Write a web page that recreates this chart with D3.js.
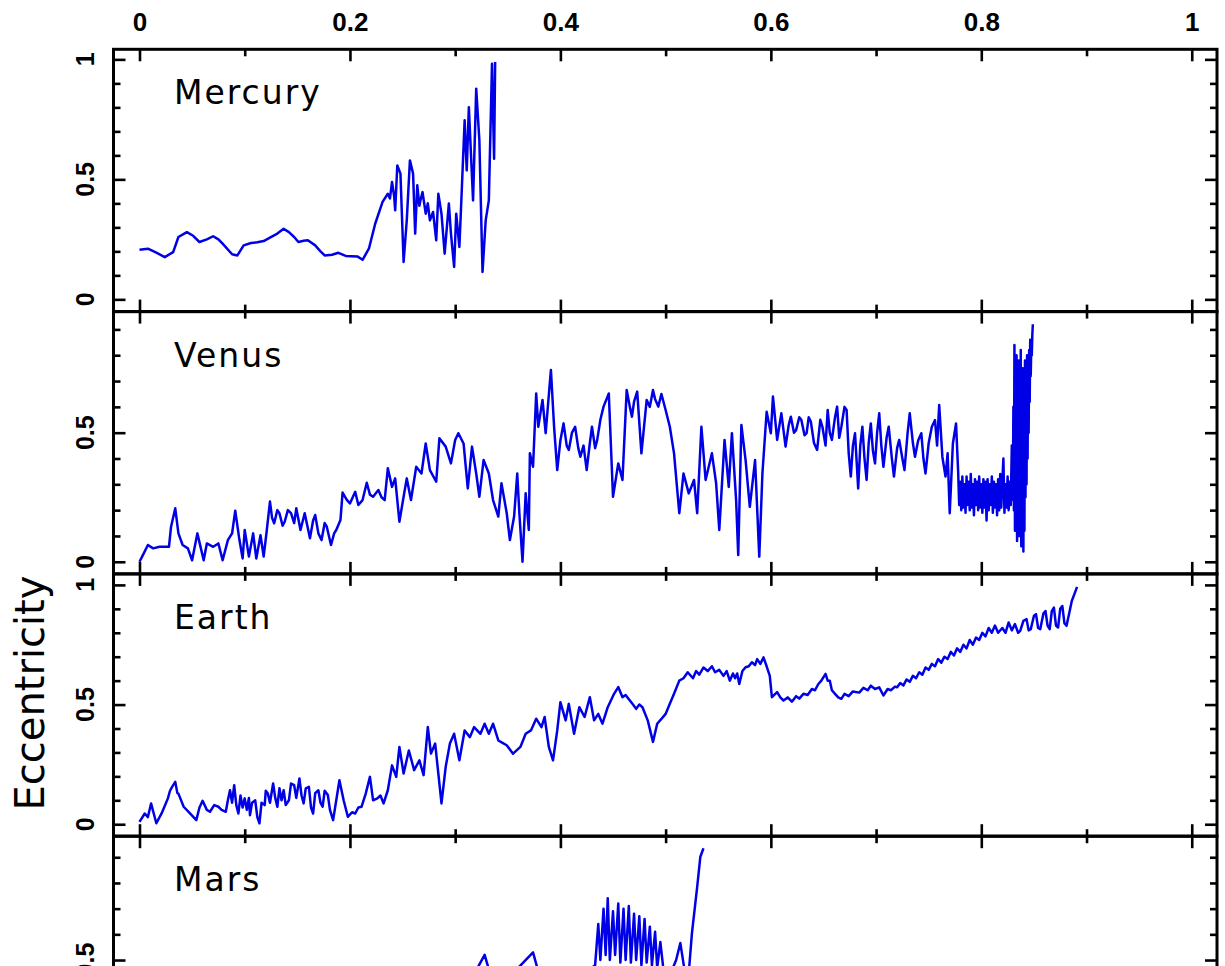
<!DOCTYPE html>
<html><head><meta charset="utf-8">
<script src="https://cdn.jsdelivr.net/npm/d3@7"></script>
<style>body{margin:0;background:#fff;overflow:hidden}svg{display:block}</style>
</head><body>
<svg id="chart" width="1225" height="966"></svg>
<script>
// ---------- data ----------
const planetNames = ["Mercury", "Venus", "Earth", "Mars"];
const xTickValues = [0, 0.2, 0.4, 0.6, 0.8, 1];
const xTickLabels = ["0", "0.2", "0.4", "0.6", "0.8", "1"];
const xMinorTicks = [0.1, 0.3, 0.5, 0.7, 0.9];
const yLabelValues = [[1, 0.5, 0], [0.5, 0], [1, 0.5, 0], [0.5]];
const yLabelTexts = [["1", "0.5", "0"], ["0.5", "0"], ["1", "0.5", "0"], ["0.5"]];
const yAxisTitle = "Eccentricity";

const mercury = [[0,0.207],[0.008,0.211],[0.016,0.195],[0.024,0.176],[0.032,0.197],[0.037,0.26],[0.045,0.28],[0.051,0.265],[0.057,0.239],[0.064,0.25],[0.070,0.263],[0.075,0.25],[0.079,0.232],[0.088,0.188],[0.093,0.183],[0.099,0.225],[0.106,0.235],[0.112,0.238],[0.118,0.243],[0.124,0.257],[0.131,0.274],[0.137,0.294],[0.142,0.28],[0.147,0.26],[0.151,0.239],[0.156,0.244],[0.160,0.246],[0.167,0.225],[0.172,0.2],[0.176,0.183],[0.183,0.186],[0.189,0.194],[0.196,0.181],[0.207,0.179],[0.212,0.165],[0.218,0.211],[0.224,0.315],[0.231,0.406],[0.236,0.44],[0.238,0.42],[0.240,0.489],[0.242,0.43],[0.243,0.371],[0.245,0.558],[0.248,0.524],[0.251,0.156],[0.254,0.329],[0.257,0.579],[0.260,0.524],[0.262,0.274],[0.264,0.475],[0.266,0.39],[0.267,0.4125],[0.269,0.447],[0.272,0.357],[0.274,0.40],[0.276,0.329],[0.279,0.364],[0.282,0.246],[0.284,0.44],[0.287,0.357],[0.290,0.19],[0.294,0.399],[0.296,0.274],[0.299,0.135],[0.301,0.357],[0.304,0.218],[0.306,0.426],[0.309,0.746],[0.311,0.5375],[0.313,0.801],[0.317,0.4125],[0.320,0.878],[0.323,0.6625],[0.326,0.114],[0.329,0.329],[0.332,0.4125],[0.335,0.982],[0.337,0.586],[0.338,0.989]];

const venus = [[0,0],[0.0025,0.02],[0.008,0.065],[0.013,0.052],[0.019,0.058],[0.028,0.058],[0.030,0.136],[0.034,0.207],[0.037,0.11],[0.041,0.065],[0.046,0.052],[0.050,0.006],[0.055,0.11],[0.061,0.006],[0.064,0.071],[0.070,0.058],[0.075,0.071],[0.079,0.006],[0.084,0.084],[0.088,0.11],[0.091,0.198],[0.095,0.084],[0.098,0.013],[0.100,0.123],[0.104,0.02],[0.108,0.11],[0.111,0.013],[0.115,0.103],[0.118,0.02],[0.121,0.123],[0.124,0.233],[0.126,0.17],[0.128,0.149],[0.131,0.20],[0.133,0.188],[0.136,0.14],[0.138,0.155],[0.141,0.20],[0.144,0.188],[0.147,0.15],[0.149,0.207],[0.153,0.123],[0.157,0.188],[0.160,0.13],[0.162,0.091],[0.165,0.16],[0.167,0.181],[0.170,0.11],[0.173,0.084],[0.176,0.15],[0.178,0.136],[0.182,0.065],[0.185,0.11],[0.187,0.123],[0.191,0.162],[0.193,0.268],[0.197,0.24],[0.200,0.226],[0.205,0.271],[0.208,0.22],[0.212,0.239],[0.216,0.306],[0.219,0.26],[0.222,0.252],[0.227,0.278],[0.230,0.25],[0.233,0.239],[0.236,0.362],[0.240,0.29],[0.243,0.323],[0.247,0.155],[0.251,0.252],[0.254,0.323],[0.258,0.239],[0.263,0.368],[0.268,0.342],[0.272,0.458],[0.276,0.355],[0.282,0.31],[0.285,0.478],[0.291,0.446],[0.296,0.381],[0.300,0.472],[0.303,0.498],[0.308,0.458],[0.312,0.284],[0.316,0.446],[0.320,0.342],[0.323,0.252],[0.327,0.394],[0.332,0.342],[0.336,0.239],[0.341,0.175],[0.344,0.304],[0.349,0.188],[0.352,0.084],[0.356,0.175],[0.359,0.342],[0.361,0.188],[0.364,0.0],[0.367,0.265],[0.370,0.123],[0.371,0.42],[0.374,0.368],[0.377,0.652],[0.379,0.523],[0.383,0.627],[0.386,0.498],[0.391,0.743],[0.394,0.523],[0.397,0.355],[0.400,0.47],[0.403,0.536],[0.406,0.45],[0.408,0.433],[0.411,0.50],[0.414,0.523],[0.417,0.44],[0.419,0.407],[0.422,0.45],[0.425,0.355],[0.428,0.46],[0.430,0.523],[0.433,0.44],[0.435,0.472],[0.438,0.55],[0.441,0.601],[0.446,0.652],[0.450,0.252],[0.455,0.381],[0.459,0.317],[0.463,0.665],[0.466,0.60],[0.468,0.562],[0.470,0.62],[0.473,0.659],[0.477,0.42],[0.482,0.627],[0.485,0.60],[0.488,0.665],[0.490,0.63],[0.493,0.601],[0.496,0.65],[0.500,0.588],[0.504,0.523],[0.508,0.42],[0.513,0.188],[0.517,0.342],[0.522,0.265],[0.527,0.317],[0.530,0.188],[0.534,0.523],[0.538,0.317],[0.544,0.42],[0.548,0.304],[0.551,0.123],[0.556,0.472],[0.560,0.29],[0.563,0.498],[0.567,0.239],[0.569,0.026],[0.572,0.53],[0.576,0.394],[0.580,0.213],[0.585,0.394],[0.589,0.02],[0.592,0.342],[0.596,0.581],[0.600,0.498],[0.602,0.64],[0.606,0.472],[0.610,0.575],[0.614,0.446],[0.617,0.53],[0.619,0.562],[0.622,0.50],[0.624,0.51],[0.627,0.56],[0.629,0.549],[0.632,0.49],[0.634,0.498],[0.636,0.56],[0.638,0.543],[0.641,0.46],[0.644,0.433],[0.647,0.55],[0.649,0.523],[0.652,0.45],[0.654,0.588],[0.656,0.50],[0.658,0.472],[0.661,0.56],[0.663,0.601],[0.665,0.48],[0.667,0.523],[0.670,0.60],[0.672,0.588],[0.674,0.42],[0.676,0.33],[0.678,0.45],[0.680,0.498],[0.683,0.284],[0.685,0.45],[0.687,0.523],[0.689,0.40],[0.691,0.317],[0.693,0.46],[0.695,0.536],[0.697,0.43],[0.699,0.381],[0.701,0.50],[0.703,0.575],[0.705,0.45],[0.707,0.368],[0.710,0.48],[0.712,0.523],[0.715,0.40],[0.717,0.33],[0.720,0.44],[0.722,0.472],[0.725,0.40],[0.727,0.355],[0.730,0.50],[0.732,0.575],[0.735,0.46],[0.737,0.407],[0.740,0.47],[0.743,0.498],[0.745,0.40],[0.747,0.342],[0.750,0.46],[0.753,0.523],[0.756,0.549],[0.758,0.45],[0.760,0.607],[0.763,0.407],[0.766,0.33],[0.768,0.42],[0.770,0.188],[0.773,0.458],[0.776,0.536],[0.778,0.35],[0.779,0.22],[0.780,0.31],[0.781,0.20],[0.782,0.33],[0.783,0.21],[0.784,0.30],[0.785,0.19],[0.786,0.33],[0.787,0.22],[0.788,0.31],[0.789,0.20],[0.790,0.34],[0.791,0.21],[0.792,0.30],[0.793,0.18],[0.794,0.32],[0.795,0.22],[0.796,0.31],[0.797,0.20],[0.798,0.33],[0.799,0.21],[0.800,0.30],[0.801,0.19],[0.802,0.32],[0.803,0.21],[0.804,0.31],[0.805,0.16],[0.806,0.32],[0.807,0.20],[0.808,0.30],[0.809,0.22],[0.810,0.33],[0.811,0.19],[0.812,0.31],[0.813,0.21],[0.814,0.30],[0.815,0.18],[0.816,0.32],[0.817,0.20],[0.818,0.34],[0.819,0.21],[0.820,0.31],[0.821,0.40],[0.822,0.19],[0.823,0.30],[0.824,0.21],[0.825,0.33],[0.826,0.20],[0.827,0.31],[0.828,0.22],[0.829,0.45],[0.830,0.24],[0.8305,0.60],[0.831,0.20],[0.8315,0.84],[0.832,0.12],[0.8325,0.70],[0.833,0.25],[0.8335,0.80],[0.834,0.08],[0.8345,0.65],[0.835,0.18],[0.8355,0.78],[0.836,0.10],[0.8365,0.72],[0.837,0.22],[0.8375,0.82],[0.838,0.06],[0.8385,0.68],[0.839,0.15],[0.8395,0.75],[0.840,0.04],[0.8405,0.70],[0.841,0.12],[0.8415,0.78],[0.842,0.25],[0.8425,0.74],[0.843,0.30],[0.8435,0.80],[0.844,0.40],[0.8445,0.76],[0.845,0.50],[0.8455,0.82],[0.846,0.62],[0.8465,0.86],[0.847,0.72],[0.8475,0.84],[0.848,0.80],[0.8485,0.88],[0.849,0.92]];

const earth = [[0,0.01],[0.005,0.045],[0.008,0.03],[0.011,0.087],[0.016,0.004],[0.021,0.045],[0.027,0.108],[0.029,0.14],[0.031,0.156],[0.034,0.177],[0.036,0.13],[0.037,0.128],[0.042,0.073],[0.048,0.045],[0.054,0.017],[0.057,0.07],[0.060,0.098],[0.064,0.06],[0.067,0.052],[0.071,0.08],[0.075,0.073],[0.078,0.06],[0.082,0.052],[0.084,0.10],[0.086,0.142],[0.088,0.09],[0.090,0.163],[0.092,0.08],[0.094,0.045],[0.096,0.12],[0.098,0.07],[0.100,0.108],[0.102,0.06],[0.104,0.11],[0.105,0.038],[0.107,0.09],[0.110,0.1],[0.112,0.03],[0.114,0.004],[0.116,0.09],[0.119,0.08],[0.120,0.14],[0.122,0.128],[0.124,0.09],[0.127,0.17],[0.129,0.11],[0.131,0.073],[0.133,0.15],[0.135,0.10],[0.137,0.142],[0.139,0.08],[0.142,0.1],[0.144,0.17],[0.147,0.163],[0.149,0.11],[0.152,0.191],[0.154,0.12],[0.156,0.087],[0.158,0.15],[0.161,0.156],[0.163,0.07],[0.165,0.045],[0.167,0.13],[0.170,0.142],[0.172,0.09],[0.174,0.073],[0.176,0.14],[0.179,0.122],[0.181,0.06],[0.184,0.017],[0.187,0.1],[0.190,0.184],[0.194,0.1],[0.198,0.031],[0.202,0.05],[0.205,0.045],[0.208,0.07],[0.211,0.073],[0.215,0.128],[0.219,0.198],[0.222,0.1],[0.226,0.108],[0.229,0.12],[0.232,0.087],[0.236,0.142],[0.240,0.246],[0.244,0.198],[0.247,0.323],[0.251,0.212],[0.256,0.308],[0.261,0.226],[0.266,0.267],[0.270,0.205],[0.274,0.406],[0.277,0.295],[0.281,0.337],[0.284,0.212],[0.287,0.087],[0.291,0.24],[0.295,0.337],[0.299,0.378],[0.304,0.267],[0.309,0.392],[0.314,0.364],[0.318,0.406],[0.324,0.378],[0.328,0.42],[0.332,0.378],[0.336,0.42],[0.341,0.35],[0.345,0.34],[0.349,0.33],[0.355,0.295],[0.362,0.323],[0.367,0.378],[0.372,0.392],[0.377,0.441],[0.382,0.406],[0.385,0.448],[0.389,0.323],[0.393,0.267],[0.397,0.392],[0.400,0.51],[0.405,0.434],[0.408,0.503],[0.413,0.378],[0.418,0.489],[0.423,0.448],[0.428,0.531],[0.432,0.434],[0.436,0.461],[0.440,0.42],[0.445,0.489],[0.451,0.545],[0.455,0.573],[0.459,0.531],[0.462,0.54],[0.466,0.517],[0.469,0.50],[0.472,0.482],[0.475,0.50],[0.478,0.489],[0.483,0.434],[0.488,0.344],[0.492,0.42],[0.496,0.44],[0.500,0.461],[0.504,0.503],[0.508,0.545],[0.513,0.6],[0.517,0.61],[0.521,0.635],[0.526,0.61],[0.529,0.64],[0.532,0.625],[0.536,0.655],[0.540,0.64],[0.544,0.66],[0.547,0.635],[0.551,0.645],[0.555,0.62],[0.558,0.64],[0.561,0.60],[0.564,0.63],[0.566,0.61],[0.568,0.63],[0.570,0.586],[0.573,0.64],[0.576,0.656],[0.579,0.66],[0.582,0.677],[0.585,0.665],[0.587,0.69],[0.590,0.67],[0.593,0.697],[0.596,0.66],[0.599,0.62],[0.601,0.531],[0.606,0.552],[0.609,0.53],[0.612,0.517],[0.616,0.53],[0.620,0.512],[0.624,0.535],[0.627,0.525],[0.631,0.545],[0.635,0.54],[0.639,0.565],[0.642,0.56],[0.645,0.585],[0.648,0.6],[0.652,0.628],[0.654,0.6],[0.656,0.6],[0.658,0.56],[0.661,0.545],[0.664,0.53],[0.667,0.524],[0.670,0.545],[0.674,0.535],[0.678,0.555],[0.684,0.55],[0.688,0.57],[0.692,0.56],[0.695,0.579],[0.699,0.565],[0.703,0.572],[0.707,0.538],[0.711,0.565],[0.714,0.56],[0.718,0.575],[0.720,0.572],[0.723,0.59],[0.726,0.58],[0.729,0.605],[0.732,0.595],[0.735,0.62],[0.738,0.61],[0.741,0.635],[0.744,0.625],[0.747,0.655],[0.750,0.645],[0.753,0.67],[0.756,0.66],[0.759,0.69],[0.762,0.675],[0.765,0.70],[0.768,0.69],[0.771,0.72],[0.774,0.705],[0.777,0.735],[0.780,0.72],[0.783,0.75],[0.786,0.735],[0.789,0.77],[0.792,0.75],[0.795,0.78],[0.798,0.77],[0.801,0.80],[0.804,0.785],[0.807,0.82],[0.810,0.80],[0.813,0.83],[0.816,0.80],[0.820,0.82],[0.823,0.80],[0.826,0.843],[0.829,0.81],[0.832,0.836],[0.835,0.80],[0.837,0.808],[0.840,0.85],[0.843,0.857],[0.845,0.81],[0.847,0.815],[0.850,0.87],[0.852,0.878],[0.854,0.82],[0.856,0.815],[0.859,0.88],[0.861,0.891],[0.863,0.83],[0.865,0.815],[0.867,0.89],[0.869,0.905],[0.871,0.83],[0.873,0.822],[0.875,0.90],[0.877,0.912],[0.879,0.84],[0.881,0.829],[0.884,0.891],[0.886,0.933],[0.889,0.968],[0.891,0.992]];

const mars = [[0,0.03],[0.05,0.08],[0.10,0.12],[0.15,0.18],[0.20,0.25],[0.25,0.32],[0.30,0.42],[0.32,0.46],[0.328,0.52],[0.333,0.45],[0.36,0.47],[0.374,0.53],[0.38,0.44],[0.41,0.46],[0.430,0.47],[0.433,0.48],[0.436,0.64],[0.438,0.50],[0.441,0.70],[0.443,0.52],[0.445,0.74],[0.447,0.50],[0.450,0.69],[0.452,0.52],[0.455,0.72],[0.457,0.49],[0.460,0.70],[0.462,0.50],[0.465,0.71],[0.467,0.49],[0.470,0.68],[0.472,0.50],[0.475,0.67],[0.477,0.48],[0.480,0.66],[0.482,0.49],[0.485,0.63],[0.487,0.48],[0.490,0.61],[0.492,0.47],[0.495,0.57],[0.498,0.46],[0.505,0.45],[0.510,0.50],[0.514,0.566],[0.518,0.46],[0.522,0.45],[0.525,0.604],[0.530,0.785],[0.533,0.902],[0.536,0.935]];

const series = [mercury, venus, earth, mars];
const yDomains = [[-0.051, 1.042], [-0.047, 0.969], [-0.05, 1.046], [-0.039, 0.982]];

// ---------- layout ----------
const left = 113.5, right = 1217;
const panelTop0 = 49.3, panelH = 262.3;
const svg = d3.select("#chart");
const x = d3.scaleLinear().domain([-0.0247, 1.024]).range([left, right]);

const line = (y) => d3.line().x(d => x(d[0])).y(d => y(d[1]));

function styleTicks(g) {
  g.select(".domain").remove();
  g.selectAll(".tick line").attr("stroke", "#000").attr("stroke-width", 2.6);
}

planetNames.forEach((name, i) => {
  const top = panelTop0 + i * panelH, bottom = top + panelH;
  const y = d3.scaleLinear().domain(yDomains[i]).range([bottom, top]);
  const g = svg.append("g");
  const clipId = "clip" + i;
  svg.append("clipPath").attr("id", clipId).append("rect")
    .attr("x", left).attr("y", top).attr("width", right - left).attr("height", panelH);

  g.append("path").datum(series[i])
    .attr("clip-path", `url(#${clipId})`)
    .attr("fill", "none").attr("stroke", "#0000e6").attr("stroke-width", 2.5)
    .attr("stroke-linejoin", "round").attr("d", line(y));

  const inDom = v => v >= yDomains[i][0] && v <= yDomains[i][1];
  const yMajor = [0, 0.5, 1].filter(inDom);
  const yMinor = d3.range(0, 11).map(k => k / 10).filter(v => !yMajor.includes(v) && inDom(v) && v !== 0.5);

  g.append("g").attr("transform", `translate(0,${top})`)
    .call(d3.axisTop(x).tickValues(xTickValues).tickSize(-12).tickFormat("")).call(styleTicks);
  g.append("g").attr("transform", `translate(0,${top})`)
    .call(d3.axisTop(x).tickValues(xMinorTicks).tickSize(-7).tickFormat("")).call(styleTicks);
  g.append("g").attr("transform", `translate(0,${bottom})`)
    .call(d3.axisBottom(x).tickValues(xTickValues).tickSize(-12).tickFormat("")).call(styleTicks);
  g.append("g").attr("transform", `translate(0,${bottom})`)
    .call(d3.axisBottom(x).tickValues(xMinorTicks).tickSize(-7).tickFormat("")).call(styleTicks);
  g.append("g").attr("transform", `translate(${left},0)`)
    .call(d3.axisLeft(y).tickValues(yMajor).tickSize(-12).tickFormat("")).call(styleTicks);
  g.append("g").attr("transform", `translate(${left},0)`)
    .call(d3.axisLeft(y).tickValues(yMinor).tickSize(-7).tickFormat("")).call(styleTicks);
  g.append("g").attr("transform", `translate(${right},0)`)
    .call(d3.axisRight(y).tickValues(yMajor).tickSize(-12).tickFormat("")).call(styleTicks);
  g.append("g").attr("transform", `translate(${right},0)`)
    .call(d3.axisRight(y).tickValues(yMinor).tickSize(-7).tickFormat("")).call(styleTicks);

  g.append("rect").attr("x", left).attr("y", top).attr("width", right - left).attr("height", panelH)
    .attr("fill", "none").attr("stroke", "#000").attr("stroke-width", 3);

  yLabelValues[i].forEach((v, k) => {
    g.append("text")
      .attr("transform", `translate(93.5,${y(v)}) rotate(-90)`)
      .attr("text-anchor", "middle")
      .attr("font-family", "Liberation Sans, Arial, sans-serif")
      .attr("font-weight", "bold").attr("font-size", 25)
      .text(yLabelTexts[i][k]);
  });

  g.append("text").attr("x", 174).attr("y", top + 55)
    .attr("font-family", "DejaVu Sans, sans-serif").attr("font-size", 33)
    .attr("letter-spacing", 2).attr("fill", "#000").text(name);
});

const axTop = svg.append("g").attr("transform", `translate(0,${panelTop0})`)
  .call(d3.axisTop(x).tickValues(xTickValues).tickSize(0).tickPadding(18)
    .tickFormat((d, k) => xTickLabels[k]));
axTop.select(".domain").remove();
axTop.selectAll("text").attr("font-family", "Liberation Sans, Arial, sans-serif")
  .attr("font-weight", "bold").attr("font-size", 26).attr("fill", "#000");

svg.append("text")
  .attr("transform", `translate(44,693) rotate(-90)`)
  .attr("text-anchor", "middle")
  .attr("font-family", "DejaVu Sans, sans-serif").attr("font-size", 40)
  .text(yAxisTitle);
</script>
</body></html>
